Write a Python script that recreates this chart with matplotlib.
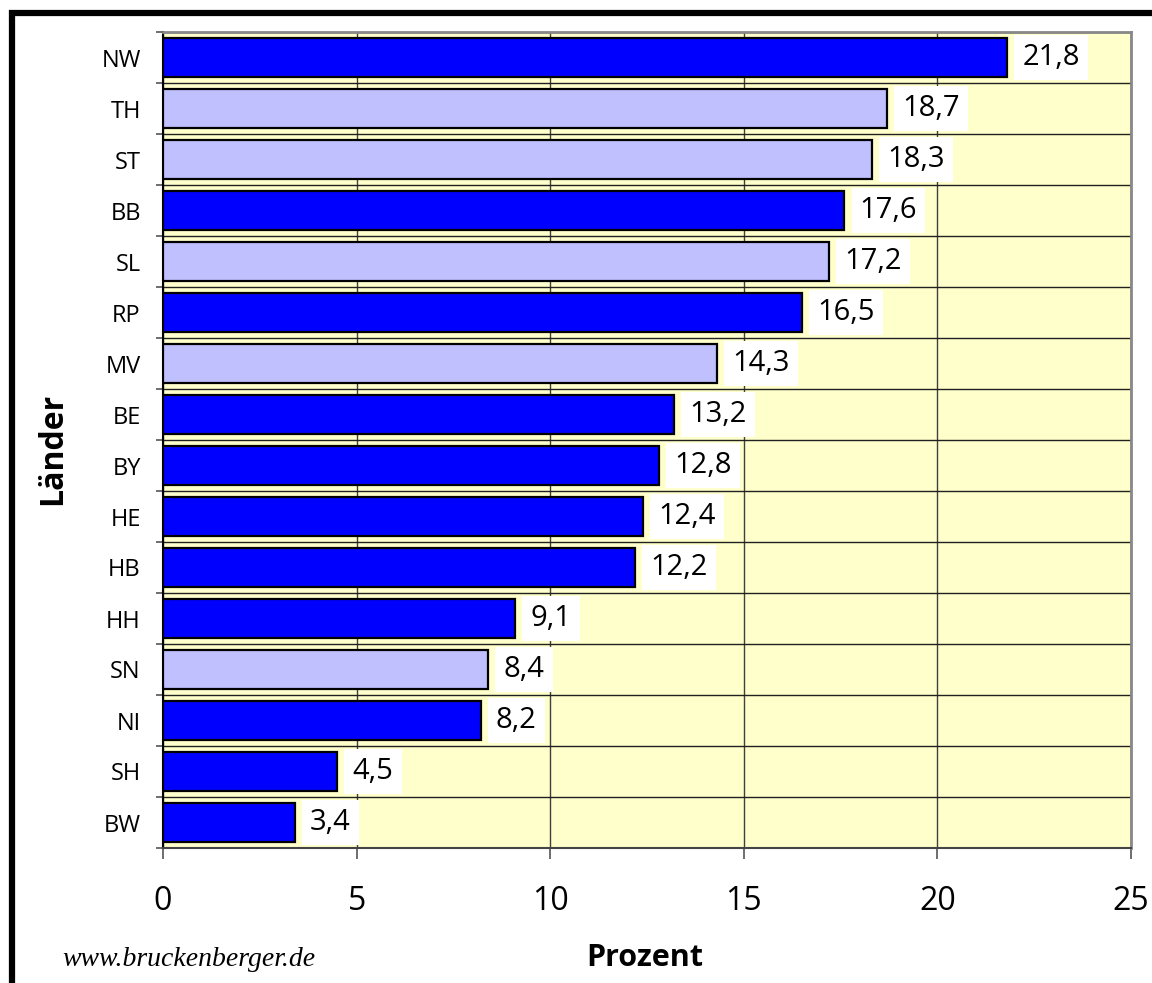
import matplotlib
matplotlib.use("Agg")
import matplotlib.pyplot as plt
import numpy as np
from matplotlib.patches import Rectangle

# data, top to bottom as in the chart
laender = ["NW", "TH", "ST", "BB", "SL", "RP", "MV", "BE",
           "BY", "HE", "HB", "HH", "SN", "NI", "SH", "BW"]
prozent = [21.8, 18.7, 18.3, 17.6, 17.2, 16.5, 14.3, 13.2,
           12.8, 12.4, 12.2, 9.1, 8.4, 8.2, 4.5, 3.4]
ost = ["TH", "ST", "SL", "MV", "SN"]  # light bars
x_ticks = [0, 5, 10, 15, 20, 25]

DARK = "#0000FF"
LIGHT = "#C0C0FF"
BG = "#FFFFCC"

plt.rcParams["font.family"] = ["Open Sans", "DejaVu Sans"]

fig = plt.figure(figsize=(11.52, 9.83), dpi=100)
ax = fig.add_axes([163 / 1152, 1 - 848 / 983, (1131 - 163) / 1152, (848 - 32) / 983])
ax.set_facecolor(BG)

n = len(laender)
y = np.arange(n)[::-1]
colors = [LIGHT if l in ost else DARK for l in laender]

ax.barh(y, prozent, height=0.78, color=colors, edgecolor="black",
        linewidth=1.6, zorder=3)

for yi, v in zip(y, prozent):
    ax.annotate(f"{v:.1f}".replace(".", ","), xy=(v, yi), xytext=(11, 0),
                textcoords="offset points", va="center", ha="left",
                fontsize=21, color="black", zorder=4,
                bbox=dict(boxstyle="square,pad=0.28", fc="white", ec="none"))

ax.set_xlim(0, 25)
ax.set_ylim(-0.5, n - 0.5)

ax.set_xticks(x_ticks)
ax.set_xticklabels([str(t) for t in x_ticks], fontsize=23)
ax.tick_params(axis="x", direction="out", length=8, width=1.2,
               color="#555555", pad=19)

ax.set_yticks(y)
ax.set_yticklabels(laender, fontsize=17)
ax.set_yticks(np.arange(n + 1) - 0.5, minor=True)
ax.tick_params(axis="y", which="major", length=0, pad=16)
ax.tick_params(axis="y", which="minor", direction="out", length=5,
               width=1.2, color="#555555")

ax.grid(axis="x", which="major", color="#404040", linewidth=1, zorder=1)
ax.grid(axis="y", which="minor", color="#202020", linewidth=1, zorder=1)
ax.set_axisbelow(True)

for side in ["top", "right"]:
    ax.spines[side].set_color("#888888")
    ax.spines[side].set_linewidth(2)
ax.spines["bottom"].set_color("#444444")
ax.spines["bottom"].set_linewidth(1.5)
ax.spines["left"].set_color("black")
ax.spines["left"].set_linewidth(1.5)

fig.text(53 / 1152, 1 - 449 / 983, "Länder", rotation=90, fontsize=23,
         fontweight="bold", ha="center", va="center")
fig.text(645 / 1152, 1 - 958 / 983, "Prozent", fontsize=22,
         fontweight="bold", ha="center", va="center")
fig.text(62 / 1152, 1 - 960 / 983, "www.bruckenberger.de", fontsize=20,
         family="Liberation Serif", style="italic", ha="left", va="center")

# outer frame, runs off the right and bottom edge
fig.add_artist(Rectangle((11.5 / 1152, -0.05), 1.1, 1 - 13 / 983 + 0.05,
                         transform=fig.transFigure, fill=False,
                         linewidth=4.5, edgecolor="black"))

fig.savefig("out.png", dpi=100, facecolor="white")
